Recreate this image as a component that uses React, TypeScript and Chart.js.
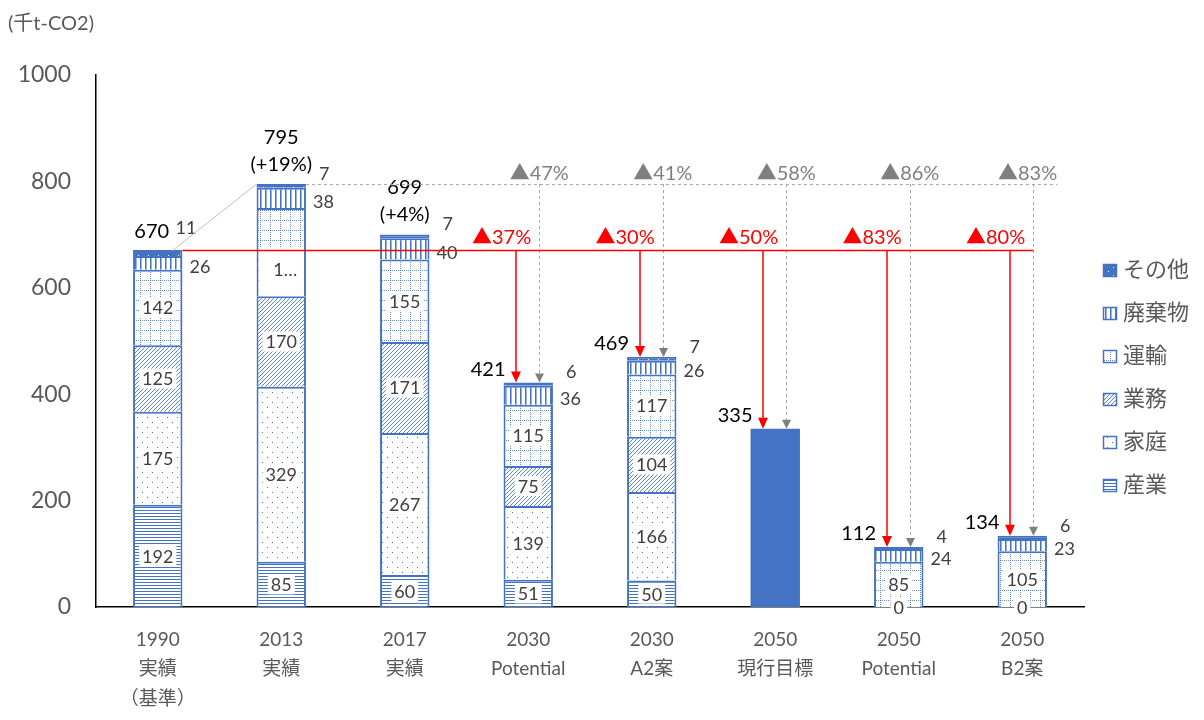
import { useEffect, useRef } from 'react';
import { Chart, registerables } from 'chart.js';

Chart.register(...registerables);

// ---------- data ----------
const categories = [
  ['1990', '実績', '（基準）'],
  ['2013', '実績'],
  ['2017', '実績'],
  ['2030', 'Potential'],
  ['2030', 'A2案'],
  ['2050', '現行目標'],
  ['2050', 'Potential'],
  ['2050', 'B2案'],
];
const seriesNames = ['産業', '家庭', '業務', '運輸', '廃棄物', 'その他'];
const sangyo = [192, 85, 60, 51, 50, null, 0, 0];
const katei = [175, 329, 267, 139, 166, null, null, null];
const gyomu = [125, 170, 171, 75, 104, null, null, null];
const unyu = [142, 166, 155, 115, 117, null, 85, 105];
const haikibutsu = [26, 38, 40, 36, 26, null, 24, 23];
const sonota = [11, 7, 7, 6, 7, null, 4, 6];
const target2050 = [null, null, null, null, null, 335, null, null];
const totals = [670, 795, 699, 421, 469, 335, 112, 134];
const totalNotes = ['', '(+19%)', '(+4%)', '', '', '', '', ''];
const unyuLabelText = [null, '1…', null, null, null, null, null, null];
const cutVs1990 = [null, null, null, 37, 30, 50, 83, 80];
const cutVs2013 = [null, null, null, 47, 41, 58, 86, 83];
const baseIndex = 0;
const peakIndex = 1;
const yTicks = [0, 200, 400, 600, 800, 1000];
const unitLabel = '(千t-CO2)';

// ---------- styles ----------
const BLUE = '#4472C4';
const GRAY_TXT = '#595959';
const LABEL_TXT = '#404040';
const FONT = "Lato, 'Noto Sans CJK JP', sans-serif";

function makePattern(kind: string): CanvasPattern | string {
  const c = document.createElement('canvas');
  let w = 8, h = 8;
  if (kind === 'hlines') { w = 4; h = 3; }
  if (kind === 'dots') { w = 10; h = 10; }
  if (kind === 'diag') { w = 4; h = 4; }
  if (kind === 'grid') { w = 10; h = 10; }
  if (kind === 'vlines') { w = 5; h = 4; }
  if (kind === 'confetti') { w = 10; h = 8; }
  c.width = w; c.height = h;
  const g = c.getContext('2d')!;
  g.fillStyle = kind === 'confetti' ? BLUE : '#ffffff';
  g.fillRect(0, 0, w, h);
  g.fillStyle = BLUE;
  if (kind === 'hlines') g.fillRect(0, 0, w, 1);
  if (kind === 'dots') { g.fillRect(2, 2, 1, 1); g.fillRect(7, 7, 1, 1); }
  if (kind === 'diag') {
    g.fillStyle = 'rgba(68,114,196,0.85)';
    g.fillRect(3, 0, 1, 1); g.fillRect(2, 1, 1, 1); g.fillRect(1, 2, 1, 1); g.fillRect(0, 3, 1, 1);
  }
  if (kind === 'grid') {
    g.fillStyle = 'rgba(68,114,196,0.8)';
    for (let i = 0; i < 10; i += 2) { g.fillRect(0, i, 1, 1); g.fillRect(i, 0, 1, 1); }
  }
  if (kind === 'vlines') {
    g.fillRect(0, 0, 1, h);
    g.fillStyle = 'rgba(68,114,196,0.55)';
    g.fillRect(1, 0, 1, h);
  }
  if (kind === 'confetti') {
    g.fillStyle = '#ffffff';
    g.fillRect(3, 3, 1, 1);
    g.fillRect(8, 7, 1, 1);
  }
  return g.createPattern(c, 'repeat') || BLUE;
}

function drawLabelBox(ctx: CanvasRenderingContext2D, text: string, x: number, y: number) {
  const w = ctx.measureText(text).width + 6;
  const h = 20;
  ctx.fillStyle = '#ffffff';
  ctx.fillRect(x - w / 2, y - h / 2, w, h);
  ctx.fillStyle = LABEL_TXT;
  ctx.textAlign = 'center';
  ctx.textBaseline = 'middle';
  ctx.fillText(text, x, y + 1);
}

const overlayPlugin = {
  id: 'overlay',
  afterDraw(chart: any) {
    const ctx: CanvasRenderingContext2D = chart.ctx;
    const xs = chart.scales.x;
    const ys = chart.scales.y;
    const n = categories.length;
    const dsCount = chart.data.datasets.length;
    const barW = chart.getDatasetMeta(0).data[0].width;
    const cx = (i: number) => xs.getPixelForValue(i);
    const topOf = (i: number) => {
      let t = Infinity;
      for (let d = 0; d < dsCount; d++) {
        const v = chart.data.datasets[d].data[i];
        if (v === null || v === undefined) continue;
        const el = chart.getDatasetMeta(d).data[i];
        t = Math.min(t, el.y, el.base);
      }
      return t;
    };
    ctx.save();

    // inside labels
    ctx.font = `18px ${FONT}`;
    for (let d = 0; d < 4; d++) {
      const meta = chart.getDatasetMeta(d);
      const data = chart.data.datasets[d].data;
      for (let i = 0; i < n; i++) {
        const v = data[i];
        if (v === null || v === undefined) continue;
        const el = meta.data[i];
        const midY = (el.y + el.base) / 2;
        const override = d === 3 ? unyuLabelText[i] : null;
        if (override) {
          ctx.fillStyle = '#ffffff';
          ctx.fillRect(el.x - barW / 2 + 3, midY - 4, barW - 6, 48);
          ctx.fillStyle = LABEL_TXT;
          ctx.textAlign = 'center';
          ctx.textBaseline = 'middle';
          ctx.fillText(override, el.x + 4, midY + 18);
        } else {
          drawLabelBox(ctx, String(v), el.x, midY);
        }
      }
    }

    // side labels (廃棄物, その他)
    ctx.fillStyle = LABEL_TXT;
    ctx.textAlign = 'left';
    ctx.textBaseline = 'middle';
    for (let i = 0; i < n; i++) {
      const vH = haikibutsu[i];
      if (vH !== null) {
        const el = chart.getDatasetMeta(4).data[i];
        ctx.fillText(String(vH), el.x + barW / 2 + 7, (el.y + el.base) / 2 + 4);
      }
      const vS = sonota[i];
      if (vS !== null) {
        const el = chart.getDatasetMeta(5).data[i];
        if (i === baseIndex) ctx.fillText(String(vS), el.x + barW / 2 - 7, el.y - 22);
        else ctx.fillText(String(vS), el.x + barW / 2 + 13, el.y - 10);
      }
    }

    // leader line from base bar to peak bar
    ctx.strokeStyle = '#BFBFBF';
    ctx.lineWidth = 1;
    ctx.beginPath();
    ctx.moveTo(cx(baseIndex) + barW / 2 - 10, ys.getPixelForValue(totals[baseIndex]));
    ctx.lineTo(cx(peakIndex) - barW / 2, ys.getPixelForValue(totals[peakIndex]));
    ctx.stroke();

    // totals
    ctx.fillStyle = '#000000';
    ctx.font = `20px ${FONT}`;
    for (let i = 0; i < n; i++) {
      const top = topOf(i);
      if (cutVs1990[i] === null) {
        ctx.textAlign = 'center';
        ctx.textBaseline = 'middle';
        if (totalNotes[i]) {
          ctx.fillText(String(totals[i]), cx(i), top - 47);
          ctx.fillText(totalNotes[i], cx(i), top - 20);
        } else {
          ctx.fillText(String(totals[i]), cx(i) - 6, top - 18);
        }
      } else {
        ctx.textAlign = 'right';
        ctx.textBaseline = 'middle';
        ctx.fillText(String(totals[i]), cx(i) - barW / 2 + 2, top - 13);
      }
    }

    // reference lines
    const yBase = ys.getPixelForValue(totals[baseIndex]);
    const yPeak = ys.getPixelForValue(totals[peakIndex]);
    const redX = (i: number) => cx(i) - 12;
    const grayX = (i: number) => cx(i) + 11;
    const lastGray = grayX(n - 1);
    const dashEnd = lastGray + 24;

    ctx.strokeStyle = '#A6A6A6';
    ctx.lineWidth = 1;
    ctx.setLineDash([3, 3]);
    ctx.beginPath();
    ctx.moveTo(cx(peakIndex) + barW / 2, yPeak + 0.5);
    ctx.lineTo(dashEnd, yPeak + 0.5);
    ctx.stroke();

    for (let i = 0; i < n; i++) {
      if (cutVs2013[i] === null) continue;
      const gx = Math.round(grayX(i)) + 0.5;
      const top = topOf(i);
      ctx.setLineDash([3, 3]);
      ctx.strokeStyle = '#A6A6A6';
      ctx.beginPath();
      ctx.moveTo(gx, yPeak);
      ctx.lineTo(gx, top - 8);
      ctx.stroke();
      ctx.setLineDash([]);
      ctx.fillStyle = '#7F7F7F';
      ctx.beginPath();
      ctx.moveTo(gx - 4.5, top - 9);
      ctx.lineTo(gx + 4.5, top - 9);
      ctx.lineTo(gx, top);
      ctx.closePath();
      ctx.fill();
    }
    ctx.setLineDash([]);

    ctx.strokeStyle = '#FF0000';
    ctx.lineWidth = 1.5;
    ctx.beginPath();
    ctx.moveTo(cx(baseIndex) + barW / 2, yBase);
    ctx.lineTo(lastGray, yBase);
    ctx.stroke();

    for (let i = 0; i < n; i++) {
      if (cutVs1990[i] === null) continue;
      const rx = Math.round(redX(i));
      const top = topOf(i);
      ctx.strokeStyle = '#FF0000';
      ctx.lineWidth = 1.5;
      ctx.beginPath();
      ctx.moveTo(rx, yBase);
      ctx.lineTo(rx, top - 10);
      ctx.stroke();
      ctx.fillStyle = '#FF0000';
      ctx.beginPath();
      ctx.moveTo(rx - 5, top - 11);
      ctx.lineTo(rx + 5, top - 11);
      ctx.lineTo(rx, top);
      ctx.closePath();
      ctx.fill();
    }

    ctx.font = `20px ${FONT}`;
    ctx.textBaseline = 'middle';
    for (let i = 0; i < n; i++) {
      const r = cutVs1990[i];
      if (r !== null) {
        ctx.fillStyle = '#FF0000';
        ctx.textAlign = 'right';
        ctx.fillText(`▲${r}%`, redX(i) + 15, yBase - 13);
      }
      const g = cutVs2013[i];
      if (g !== null) {
        const t = `▲${g}%`;
        const w = ctx.measureText(t).width;
        const center = Math.min(grayX(i), dashEnd - w / 2);
        ctx.fillStyle = '#7F7F7F';
        ctx.textAlign = 'center';
        ctx.fillText(t, center, yPeak - 11);
      }
    }

    // legend
    const legendX = chart.chartArea.right + 19;
    const legendY0 = 270;
    const legendGap = 43;
    ctx.font = `22px ${FONT}`;
    ctx.textAlign = 'left';
    ctx.textBaseline = 'middle';
    for (let k = 0; k < 6; k++) {
      const d = 5 - k;
      const ds = chart.data.datasets[d];
      const y = legendY0 + k * legendGap;
      ctx.fillStyle = ds.backgroundColor;
      ctx.fillRect(legendX, y - 6, 14, 13);
      ctx.strokeStyle = BLUE;
      ctx.lineWidth = 1.5;
      ctx.strokeRect(legendX + 0.5, y - 5.5, 13, 12);
      ctx.fillStyle = GRAY_TXT;
      ctx.fillText(ds.label, legendX + 20, y);
    }

    // unit label
    ctx.font = `20px ${FONT}`;
    ctx.fillStyle = GRAY_TXT;
    ctx.textAlign = 'left';
    ctx.textBaseline = 'middle';
    ctx.fillText(unitLabel, 8, 24);

    ctx.restore();
  },
};

export default function App() {
  const ref = useRef<HTMLCanvasElement | null>(null);
  useEffect(() => {
    if (!ref.current) return;
    const patterns = ['hlines', 'dots', 'diag', 'grid', 'vlines', 'confetti'].map(makePattern);
    const series = [sangyo, katei, gyomu, unyu, haikibutsu, sonota];
    const datasets: any[] = series.map((data, k) => ({
      label: seriesNames[k],
      data,
      backgroundColor: patterns[k],
      borderColor: BLUE,
      borderWidth: 2,
      stack: 's',
    }));
    datasets.push({
      label: '現行目標',
      data: target2050,
      backgroundColor: BLUE,
      borderColor: BLUE,
      borderWidth: 0,
      stack: 's',
    });
    const chart = new Chart(ref.current, {
      type: 'bar',
      data: { labels: categories as any, datasets },
      options: {
        responsive: false,
        animation: false,
        events: [],
        layout: { padding: { top: 75, right: 120, left: 0, bottom: 0 } },
        datasets: { bar: { barPercentage: 0.4, categoryPercentage: 1 } },
        plugins: { legend: { display: false }, tooltip: { enabled: false } },
        scales: {
          x: {
            stacked: true,
            grid: { display: false, drawTicks: false },
            border: { display: true, color: '#000000', width: 1.5 },
            ticks: { color: GRAY_TXT, font: { family: FONT, size: 19, lineHeight: 1.55 }, padding: 18, maxRotation: 0, autoSkip: false },
            afterFit: (s: any) => { s.height = 113; },
          },
          y: {
            stacked: true,
            min: 0,
            max: 1000,
            afterBuildTicks: (s: any) => { s.ticks = yTicks.map((v) => ({ value: v })); },
            grid: { display: false, drawTicks: false },
            border: { display: true, color: '#000000', width: 1.5 },
            ticks: { color: GRAY_TXT, font: { family: FONT, size: 23 }, padding: 25, callback: (v: any) => String(v) },
            afterFit: (s: any) => { s.width = 96; },
          },
        },
      } as any,
      plugins: [overlayPlugin],
    });
    return () => chart.destroy();
  }, []);
  return (
    <div style={{ position: 'absolute', left: 0, top: 0, width: 1204, height: 720, background: '#fff' }}>
      <canvas ref={ref} width={1204} height={720} />
    </div>
  );
}
